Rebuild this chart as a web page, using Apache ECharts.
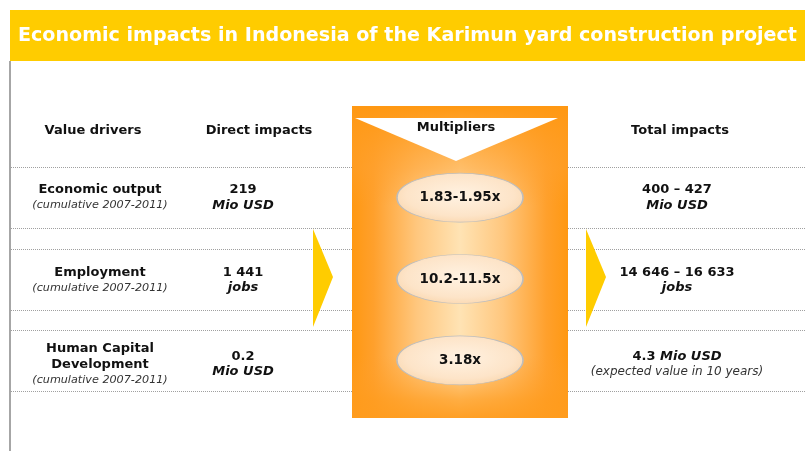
<!DOCTYPE html>
<html><head><meta charset="utf-8">
<script src="https://cdn.jsdelivr.net/npm/echarts@6/dist/echarts.min.js"></script>
<style>html,body{margin:0;padding:0;background:#fff}#c{width:805px;height:451px}</style>
</head><body><div id="c"></div>
<script>
// ---- data ----
const titleText = 'Economic impacts in Indonesia of the Karimun yard construction project';
const headers = ['Value drivers', 'Direct impacts', 'Multipliers', 'Total impacts'];
const rowKeys = ['output', 'employment', 'human'];
const driverNames = ['Economic output', 'Employment', 'Human Capital\nDevelopment'];
const driverNotes = ['(cumulative 2007-2011)', '(cumulative 2007-2011)', '(cumulative 2007-2011)'];
const directValues = ['219', '1 441', '0.2'];
const directUnits = ['Mio USD', 'jobs', 'Mio USD'];
const multipliers = ['1.83-1.95x', '10.2-11.5x', '3.18x'];
const totalValues = ['400 – 427', '14 646 – 16 633', '4.3'];
const totalUnits = ['Mio USD', 'jobs', 'Mio USD'];
const totalNotes = ['', '', '(expected value in 10 years)'];

// ---- layout ----
const W = 805, H = 451;
const gridTop = 157, gridH = 244;
const band = gridH / rowKeys.length;
const colX = { driver: 100, direct: 243, mult: 460, total: 677 };
const rowNudge = [0, 1, 4];
const headY = 131;
const FONT = '"DejaVu Sans", Verdana, sans-serif';

const rich = {
  b: { fontFamily: FONT, fontWeight: 'bold', fontSize: 13, color: '#111', lineHeight: 15.5 },
  bi: { fontFamily: FONT, fontWeight: 'bold', fontStyle: 'italic', fontSize: 13, color: '#111', lineHeight: 15.5 },
  i: { fontFamily: FONT, fontStyle: 'italic', fontSize: 11.2, color: '#333', lineHeight: 15.5 },
  i2: { fontFamily: FONT, fontStyle: 'italic', fontSize: 12, color: '#333', lineHeight: 16 }
};

function textSeries(x, fmt) {
  return {
    type: 'scatter', symbol: 'circle', symbolSize: 1, silent: true,
    itemStyle: { color: 'rgba(0,0,0,0)', opacity: 1 },
    data: rowKeys.map((k, i) => ({ value: [x, k], label: { offset: [0, rowNudge[i]] } })),
    label: { show: true, position: 'inside', formatter: p => fmt(p.dataIndex), rich: rich, align: 'center', verticalAlign: 'middle' },
    z: 5
  };
}

const series = [
  textSeries(colX.driver, i => driverNames[i].split('\n').map(s => '{b|' + s + '}').join('\n') + '\n{i|' + driverNotes[i] + '}'),
  textSeries(colX.direct, i => '{b|' + directValues[i] + '}\n{bi|' + directUnits[i] + '}'),
  textSeries(colX.total, i => totalNotes[i]
    ? '{b|' + totalValues[i] + ' }{bi|' + totalUnits[i] + '}\n{i2|' + totalNotes[i] + '}'
    : '{b|' + totalValues[i] + '}\n{bi|' + totalUnits[i] + '}'),
  {
    type: 'scatter', symbol: 'circle', symbolSize: [126, 49], silent: true,
    data: rowKeys.map((k, i) => [colX.mult, k]),
    itemStyle: {
      color: { type: 'radial', x: 0.5, y: 0.45, r: 0.6, colorStops: [
        { offset: 0, color: '#FFF2E2' }, { offset: 0.7, color: '#FDE4C8' }, { offset: 1, color: '#FAD6AC' }] },
      borderColor: '#BDBDBD', borderWidth: 1, opacity: 1
    },
    label: { show: true, position: 'inside', formatter: p => multipliers[p.dataIndex],
      fontFamily: FONT, fontWeight: 'bold', fontSize: 13.5, color: '#111' },
    z: 4
  }
];

// title compression
const ctx = document.createElement('canvas').getContext('2d');
ctx.font = 'bold 20px ' + FONT;
const titleScale = 779 / ctx.measureText(titleText).width;

const graphic = [];
graphic.push({ type: 'rect', shape: { x: 10, y: 10, width: 795, height: 51 }, style: { fill: '#FFCC00' }, z: 1 });
graphic.push({ type: 'text', x: 18, y: 36, scaleX: titleScale, style: { text: titleText, fill: '#fff', font: 'bold 20px ' + FONT, verticalAlign: 'middle', align: 'left' }, z: 2 });
graphic.push({ type: 'line', shape: { x1: 10, y1: 61, x2: 10, y2: H }, style: { stroke: '#A6A6A6', lineWidth: 2 }, z: 1 });

// dotted row lines
rowKeys.forEach((k, i) => {
  const c = gridTop + band * (i + 0.5);
  [c - 30.5, c + 30.5].forEach(y => {
    const yy = Math.round(y) + 0.5;
    [[11, 352], [568, W]].forEach(seg => {
      graphic.push({ type: 'line', shape: { x1: seg[0], y1: yy, x2: seg[1], y2: yy }, style: { stroke: '#A0A0A0', lineWidth: 1, lineDash: [1, 1] }, z: 1 });
    });
  });
});

// orange multipliers box
graphic.push({ type: 'rect', shape: { x: 352, y: 106, width: 216, height: 312 },
  style: { fill: { type: 'linear', x: 0, y: 0, x2: 1, y2: 0, colorStops: [
    { offset: 0, color: '#FF9812' }, { offset: 0.1, color: '#FFA02C' }, { offset: 0.3, color: '#FFC77E' },
    { offset: 0.5, color: '#FFE3B4' }, { offset: 0.7, color: '#FFC77E' }, { offset: 0.9, color: '#FFA02C' }, { offset: 1, color: '#FF9812' }] } }, z: 2 });
graphic.push({ type: 'rect', shape: { x: 352, y: 106, width: 216, height: 312 },
  style: { fill: { type: 'linear', x: 0, y: 0, x2: 0, y2: 1, colorStops: [
    { offset: 0, color: 'rgba(255,152,18,1)' }, { offset: 0.2, color: 'rgba(255,160,44,0.55)' }, { offset: 0.32, color: 'rgba(255,160,44,0)' },
    { offset: 0.8, color: 'rgba(255,160,44,0)' }, { offset: 0.94, color: 'rgba(255,156,30,0.75)' }, { offset: 1, color: 'rgba(255,156,30,0.95)' }] } }, z: 2 });
graphic.push({ type: 'polygon', shape: { points: [[355, 118], [558, 118], [456, 161]] }, style: { fill: '#fff' }, z: 3 });

// arrows
graphic.push({ type: 'polygon', shape: { points: [[313, 229], [333, 277], [313, 327]] }, style: { fill: '#FFCC00' }, z: 3 });
graphic.push({ type: 'polygon', shape: { points: [[586, 229], [606, 277], [586, 327]] }, style: { fill: '#FFCC00' }, z: 3 });

// headers
const headX = [93, 259, 456, 680];
const headYs = [headY, headY, 128, headY];
headers.forEach((h, i) => {
  graphic.push({ type: 'text', x: headX[i], y: headYs[i], style: { text: h, fill: '#111', font: 'bold 13px ' + FONT, align: 'center', verticalAlign: 'middle' }, z: 4 });
});

const chart = echarts.init(document.getElementById('c'), null, { renderer: 'canvas' });
chart.setOption({
  animation: false,
  backgroundColor: '#fff',
  grid: { left: 0, right: 0, top: gridTop, height: gridH },
  xAxis: { type: 'value', min: 0, max: W, show: false },
  yAxis: { type: 'category', data: rowKeys, inverse: true, show: false },
  graphic: graphic,
  series: series
});
</script></body></html>
